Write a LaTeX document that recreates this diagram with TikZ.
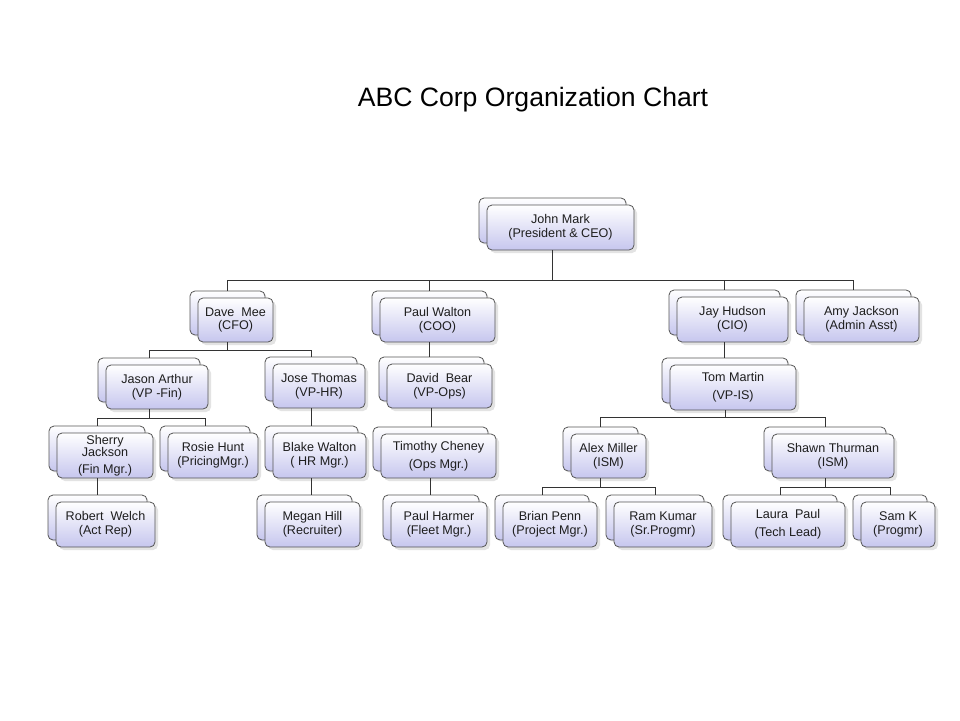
\documentclass[tikz,border=0pt]{standalone}
\usepackage{fontspec}
\setmainfont{Liberation Sans}
\usetikzlibrary{shadows,calc}
\definecolor{lav}{RGB}{198,198,238}
\definecolor{edgec}{RGB}{85,85,85}
\definecolor{txt}{RGB}{30,30,30}
\tikzset{
  boxbase/.style={draw=edgec, line width=0.8pt, rounded corners=5pt, inner sep=0pt,
    align=center, text=txt, font=\fontsize{12.6}{13.8}\selectfont,
    top color=white, bottom color=lav},
  backbox/.style={boxbase, drop shadow={opacity=0.12, shadow xshift=2pt, shadow yshift=-2pt}},
  frontbox/.style={boxbase, drop shadow={opacity=0.22, shadow xshift=3pt, shadow yshift=-3pt}},
  conn/.style={draw=black!80, line width=1pt},
  titlestyle/.style={font=\fontsize{26.6}{30}\selectfont, inner sep=0pt}
}
\newcommand\orgbox[6]{%
  \node[backbox, minimum width={#4-#2}, minimum height={#5-#3}] (#1B) at ({(#2+#4)/2-8},{(#3+#5)/2-7}) {};
  \node[frontbox, minimum width={#4-#2}, minimum height={#5-#3}] (#1) at ({(#2+#4)/2},{(#3+#5)/2}) {#6};
}
\begin{document}
\begin{tikzpicture}[x=1pt,y=-1pt]
\fill[white] (0,0) rectangle (960,720);
\useasboundingbox (0,0) rectangle (960,720);

\node[titlestyle, text=black] (title) at (533,100) {ABC Corp Organization Chart};

\orgbox{john}{487}{205}{634}{250}{John Mark\\(President \& CEO)}
\orgbox{dave}{198}{298}{273}{342}{Dave\ \ Mee\\(CFO)}
\orgbox{paul}{380}{298}{495}{342}{Paul Walton\\(COO)}
\orgbox{jay}{677}{297}{788}{342}{Jay Hudson\\(CIO)}
\orgbox{amy}{804}{297}{919}{342}{Amy Jackson\\(Admin Asst)}
\orgbox{jason}{106}{365}{208}{409}{Jason Arthur\\(VP -Fin)}
\orgbox{jose}{273}{364}{365}{408}{Jose Thomas\\(VP-HR)}
\orgbox{david}{387}{364}{492}{408}{David\ \ Bear\\(VP-Ops)}
\orgbox{tom}{670}{365}{796}{410}{Tom Martin\\[4pt](VP-IS)}
\orgbox{sherry}{57}{433}{153}{478}{Sherry\\[-1.5pt]Jackson\\[3pt](Fin Mgr.)}
\orgbox{rosie}{168}{433}{258}{478}{Rosie Hunt\\(PricingMgr.)}
\orgbox{blake}{273}{433}{366}{478}{Blake Walton\\( HR Mgr.)}
\orgbox{timothy}{381}{434}{496}{478}{Timothy Cheney\\[4pt](Ops Mgr.)}
\orgbox{alex}{571}{434}{646}{478}{Alex Miller\\(ISM)}
\orgbox{shawn}{772}{434}{894}{478}{Shawn Thurman\\(ISM)}
\orgbox{robert}{56}{502}{155}{547}{Robert\ \ Welch\\(Act Rep)}
\orgbox{megan}{265}{502}{360}{547}{Megan Hill\\(Recruiter)}
\orgbox{paulh}{391}{502}{487}{547}{Paul Harmer\\(Fleet Mgr.)}
\orgbox{brian}{503}{502}{597}{547}{Brian Penn\\(Project Mgr.)}
\orgbox{ram}{614}{502}{712}{547}{Ram Kumar\\(Sr.Progmr)}
\orgbox{laura}{731}{502}{845}{547}{Laura\ \ Paul\\[4pt](Tech Lead)}
\orgbox{samk}{861}{502}{935}{547}{Sam K\\(Progmr)}

% level 1
\draw[conn] (johnB.center |- john.south) -- ++(0,30) coordinate (jm);
\draw[conn] (daveB.north) |- (jm) -| (amyB.north);
\draw[conn] (paulB.north) -- (paulB.north |- jm);
\draw[conn] (jayB.north) -- (jayB.north |- jm);
% Dave
\draw[conn] (daveB.center |- dave.south) -- ++(0,8) coordinate (dm);
\draw[conn] (jasonB.north) |- (dm) -| (joseB.north);
% Paul, Jay
\draw[conn] (paulB.center |- paul.south) -- (paulB.center |- davidB.north);
\draw[conn] (jayB.center |- jay.south) -- (jayB.center |- tomB.north);
% Jason
\draw[conn] (jasonB.center |- jason.south) -- ++(0,9) coordinate (jam);
\draw[conn] (sherryB.north) |- (jam) -| (rosieB.north);
% Jose, David
\draw[conn] (joseB.center |- jose.south) -- (joseB.center |- blakeB.north);
\draw[conn] (davidB.center |- david.south) -- (davidB.center |- timothyB.north);
% Tom
\draw[conn] (tomB.center |- tom.south) -- ++(0,7) coordinate (tm);
\draw[conn] (alexB.north) |- (tm) -| (shawnB.north);
% level 4 -> 5
\draw[conn] (sherryB.center |- sherry.south) -- (sherryB.center |- robertB.north);
\draw[conn] (blakeB.center |- blake.south) -- (blakeB.center |- meganB.north);
\draw[conn] (timothyB.center |- timothy.south) -- (timothyB.center |- paulhB.north);
\draw[conn] (alexB.center |- alex.south) -- ++(0,9) coordinate (am);
\draw[conn] (brianB.north) |- (am) -| (ramB.north);
\draw[conn] (shawnB.center |- shawn.south) -- ++(0,9) coordinate (sm);
\draw[conn] (lauraB.north) |- (sm) -| (samkB.north);
\end{tikzpicture}
\end{document}
